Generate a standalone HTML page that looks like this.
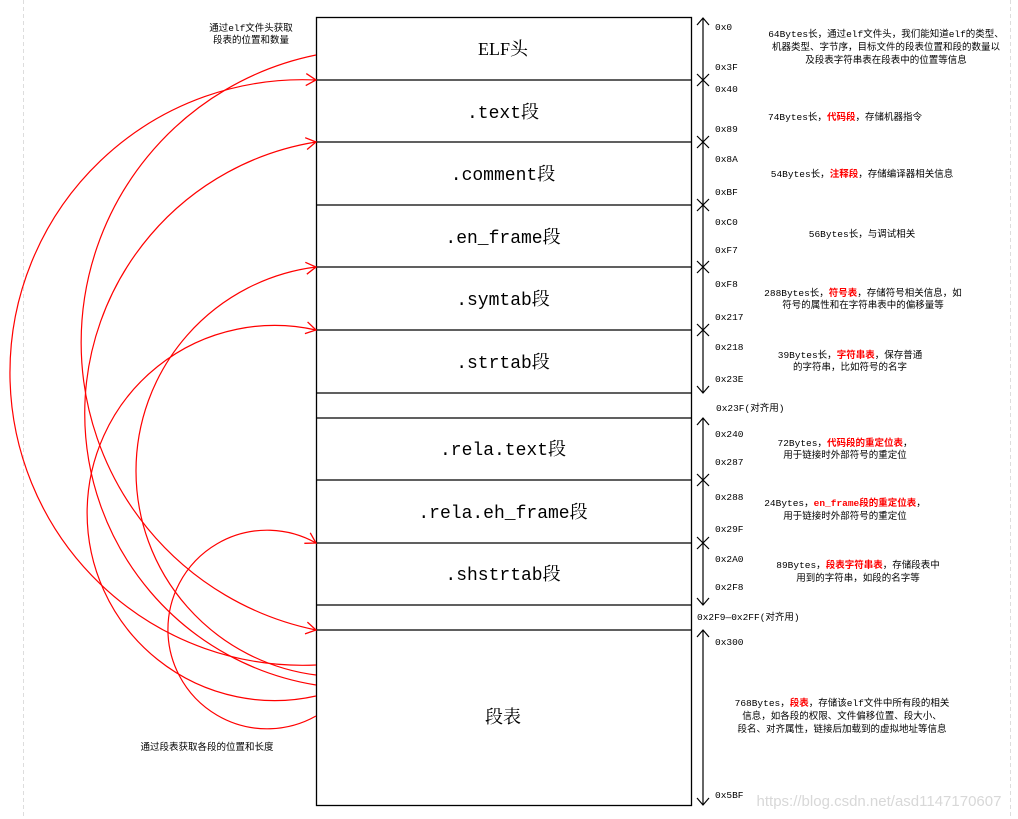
<!DOCTYPE html>
<html><head><meta charset="utf-8"><style>
html,body{margin:0;padding:0;background:#fff}
svg{display:block}
.b{font-family:"Liberation Mono","Noto Serif CJK SC",monospace;font-size:18px;fill:#000}
.s{font-family:"Liberation Mono","Noto Sans CJK SC",monospace;font-size:9.5px;fill:#000}
.d{font-family:"Liberation Mono","Noto Sans CJK SC",monospace;font-size:9.5px;fill:#000}
.r{fill:#f00;font-weight:bold}
</style></head><body>
<svg width="1018" height="819" viewBox="0 0 1018 819" xmlns="http://www.w3.org/2000/svg">
<defs>
<marker id="ar" markerUnits="userSpaceOnUse" markerWidth="14" markerHeight="14" refX="11" refY="7" orient="auto">
<path d="M1,1 L11,7 L1,13" fill="none" stroke="#f00" stroke-width="1.3"/>
</marker>
</defs>
<line x1="23.5" y1="0" x2="23.5" y2="819" stroke="#ddd" stroke-dasharray="4,3"/>
<line x1="1010.5" y1="0" x2="1010.5" y2="819" stroke="#ddd" stroke-dasharray="4,3"/>
<!-- main box -->
<g stroke="#000" stroke-width="1.3" fill="none">
<rect x="316.5" y="17.5" width="375" height="788"/>
<line x1="316" y1="80" x2="691" y2="80"/>
<line x1="316" y1="142" x2="691" y2="142"/>
<line x1="316" y1="205" x2="691" y2="205"/>
<line x1="316" y1="267" x2="691" y2="267"/>
<line x1="316" y1="330" x2="691" y2="330"/>
<line x1="316" y1="393" x2="691" y2="393"/>
<line x1="316" y1="418" x2="691" y2="418"/>
<line x1="316" y1="480" x2="691" y2="480"/>
<line x1="316" y1="543" x2="691" y2="543"/>
<line x1="316" y1="605" x2="691" y2="605"/>
<line x1="316" y1="630" x2="691" y2="630"/>
</g>
<g class="b" text-anchor="middle">
<text x="503" y="55" font-family="Liberation Serif,'Noto Serif CJK SC',serif" style="font-family:'Liberation Serif','Noto Serif CJK SC',serif">ELF头</text>
<text x="503" y="118">.text段</text>
<text x="503" y="180">.comment段</text>
<text x="503" y="243">.en_frame段</text>
<text x="503" y="305">.symtab段</text>
<text x="503" y="368">.strtab段</text>
<text x="503" y="455">.rela.text段</text>
<text x="503" y="518">.rela.eh_frame段</text>
<text x="503" y="580">.shstrtab段</text>
<text x="503" y="723" style="font-family:'Noto Serif CJK SC',serif">段表</text>
</g>
<!-- axis -->
<g stroke="#000" stroke-width="1.2" fill="none">
<line x1="703" y1="18" x2="703" y2="393"/>
<path d="M697,25 L703,18 L709,25"/>
<path d="M697,386 L703,393 L709,386"/>
<line x1="703" y1="418" x2="703" y2="605"/>
<path d="M697,425 L703,418 L709,425"/>
<path d="M697,598 L703,605 L709,598"/>
<line x1="703" y1="630" x2="703" y2="805"/>
<path d="M697,637 L703,630 L709,637"/>
<path d="M697,798 L703,805 L709,798"/>
<path d="M697,74 L709,86 M709,74 L697,86"/>
<path d="M697,136 L709,148 M709,136 L697,148"/>
<path d="M697,199 L709,211 M709,199 L697,211"/>
<path d="M697,261 L709,273 M709,261 L697,273"/>
<path d="M697,324 L709,336 M709,324 L697,336"/>
<path d="M697,474 L709,486 M709,474 L697,486"/>
<path d="M697,537 L709,549 M709,537 L697,549"/>
</g>
<g class="s">
<text x="715" y="30">0x0</text>
<text x="715" y="70">0x3F</text>
<text x="715" y="92">0x40</text>
<text x="715" y="132">0x89</text>
<text x="715" y="162">0x8A</text>
<text x="715" y="195">0xBF</text>
<text x="715" y="225">0xC0</text>
<text x="715" y="253">0xF7</text>
<text x="715" y="287">0xF8</text>
<text x="715" y="320">0x217</text>
<text x="715" y="350">0x218</text>
<text x="715" y="382">0x23E</text>
<text x="716" y="411">0x23F(对齐用)</text>
<text x="715" y="437">0x240</text>
<text x="715" y="465">0x287</text>
<text x="715" y="500">0x288</text>
<text x="715" y="532">0x29F</text>
<text x="715" y="562">0x2A0</text>
<text x="715" y="590">0x2F8</text>
<text x="697" y="620">0x2F9—0x2FF(对齐用)</text>
<text x="715" y="645">0x300</text>
<text x="715" y="798">0x5BF</text>
</g>
<g class="d" text-anchor="middle">
<text x="886" y="37">64Bytes长，通过elf文件头，我们能知道elf的类型、</text>
<text x="886" y="50">机器类型、字节序，目标文件的段表位置和段的数量以</text>
<text x="886" y="63">及段表字符串表在段表中的位置等信息</text>
<text x="845" y="120">74Bytes长，<tspan class="r">代码段</tspan>，存储机器指令</text>
<text x="862" y="177">54Bytes长，<tspan class="r">注释段</tspan>，存储编译器相关信息</text>
<text x="862" y="237">56Bytes长，与调试相关</text>
<text x="863" y="296">288Bytes长，<tspan class="r">符号表</tspan>，存储符号相关信息，如</text>
<text x="863" y="308">符号的属性和在字符串表中的偏移量等</text>
<text x="850" y="358">39Bytes长，<tspan class="r">字符串表</tspan>，保存普通</text>
<text x="850" y="370">的字符串，比如符号的名字</text>
<text x="845" y="446">72Bytes，<tspan class="r">代码段的重定位表</tspan>，</text>
<text x="845" y="458">用于链接时外部符号的重定位</text>
<text x="845" y="506">24Bytes，<tspan class="r">en_frame段的重定位表</tspan>，</text>
<text x="845" y="519">用于链接时外部符号的重定位</text>
<text x="858" y="568">89Bytes，<tspan class="r">段表字符串表</tspan>，存储段表中</text>
<text x="858" y="581">用到的字符串，如段的名字等</text>
<text x="842" y="706">768Bytes，<tspan class="r">段表</tspan>，存储该elf文件中所有段的相关</text>
<text x="842" y="719">信息，如各段的权限、文件偏移位置、段大小、</text>
<text x="842" y="732">段名、对齐属性，链接后加载到的虚拟地址等信息</text>
<text x="251" y="31">通过elf文件头获取</text>
<text x="251" y="43">段表的位置和数量</text>
<text x="207" y="750">通过段表获取各段的位置和长度</text>
</g>
<text x="879" y="806" text-anchor="middle" font-family="Liberation Sans,sans-serif" font-size="15" fill="#d8d8d8">https://blog.csdn.net/asd1147170607</text>
<!-- arcs -->
<g stroke="#f00" stroke-width="1.2" fill="none" marker-end="url(#ar)">
<path d="M316,55 A293.4,293.4 0 0 0 316,630"/>
<path d="M316,665 A292.8,292.8 0 1 1 316,80"/>
<path d="M316,685 A275,275 0 0 1 316,142"/>
<path d="M316,675 A205.6,205.6 0 0 1 316,267"/>
<path d="M316,696 A187.6,187.6 0 1 1 316,330"/>
<path d="M316,716 A99.3,99.3 0 1 1 316,543"/>
</g>
</svg>
</body></html>
